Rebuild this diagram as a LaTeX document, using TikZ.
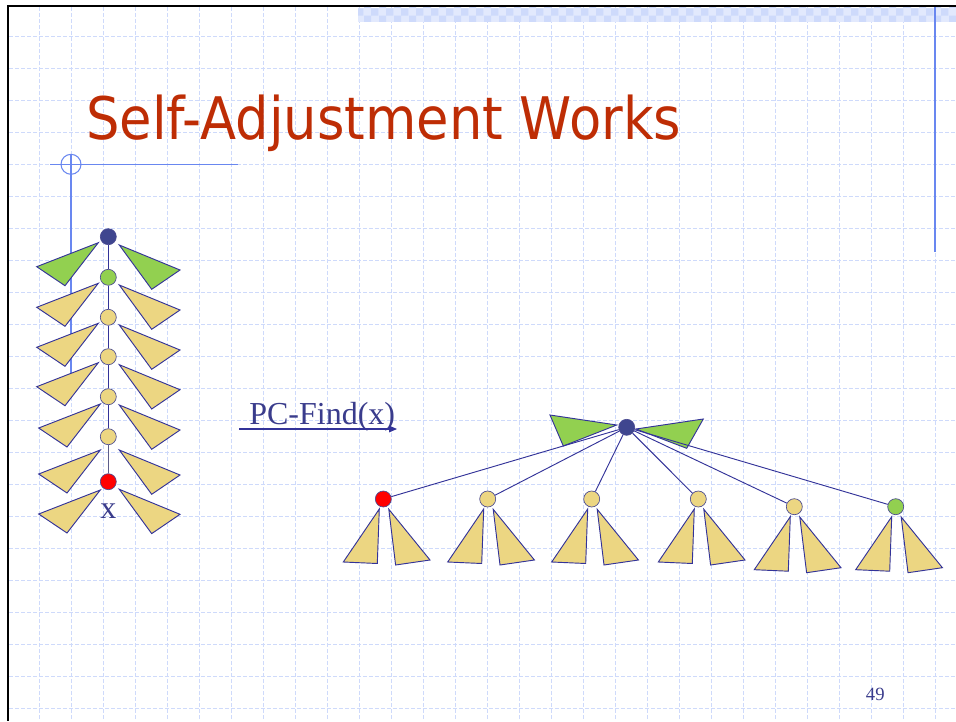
\documentclass[tikz,border=0pt]{standalone}
\usepackage{fontspec}
\usepackage{graphicx}
\setmainfont{Liberation Serif}
\newfontfamily\titlefont{DejaVu Sans}
\usetikzlibrary{arrows.meta,patterns}

\definecolor{titlered}{RGB}{190,45,5}
\definecolor{navy}{RGB}{51,51,153}
\definecolor{textnavy}{RGB}{58,60,140}
\definecolor{rootblue}{RGB}{63,70,143}
\definecolor{subyellow}{RGB}{236,214,130}
\definecolor{leafgreen}{RGB}{146,208,80}
\definecolor{nodered}{RGB}{255,0,0}
\definecolor{gridblue}{RGB}{206,218,251}
\definecolor{decoblue}{RGB}{105,135,240}
\definecolor{bandlight}{RGB}{226,233,253}
\definecolor{banddark}{RGB}{206,218,251}

\begin{document}
\begin{tikzpicture}[x=0.75pt,y=-0.75pt,
  gridline/.style={gridblue, line width=0.6pt, dash pattern=on 3pt off 1.5pt},
  deco/.style={decoblue},
  tri/.style={draw=navy, line width=0.7pt, line join=miter},
  vtx/.style={circle, draw=navy!70!gray, line width=0.5pt, minimum size=12pt, inner sep=0pt},
  edge/.style={navy, line width=0.7pt},
  spine/.style={navy, line width=1pt},
  label/.style={text=textnavy, inner sep=0pt}]
\useasboundingbox (0,0) rectangle (956,721);
\fill[white] (0,0) rectangle (956,721);

% background grid
\foreach \k in {1,...,29}
  \draw[gridline] ({7+32*\k},7) -- ({7+32*\k},721);
\foreach \k in {1,...,22}
  \draw[gridline] (9,{4.7+32*\k}) -- (956,{4.7+32*\k});

% checkered band along the top
\fill[bandlight] (358,7.5) rectangle (956,21.5);
\fill[pattern=checkerboard, pattern color=banddark] (358,7.5) rectangle (956,21.5);

% frame
\draw[black, line width=1.9pt] (7,6) -- (956,6);
\draw[black, line width=1.9pt] (8,5) -- (8,721);

% blue ornaments
\draw[deco, line width=1.5pt] (934.7,7) -- (934.7,252);
\draw[deco, line width=1pt] (50,164.3) -- (238,164.3);
\draw[deco, line width=1.5pt] (71,154.3) -- (71,373);
\draw[deco, line width=0.8pt] (71,164.3) circle[radius=7.5pt];

% title
\node[anchor=base west, inner sep=0pt, text=titlered,
      font=\titlefont\fontsize{44}{52}\selectfont] (title) at (86,139.5)
  {\resizebox{446pt}{\height}{Self-Adjustment Works}};

% ---- left tree: a long path down to x ----
\node[vtx, fill=rootblue]  (L0) at (108.3,236.7) {};
\node[vtx, fill=leafgreen] (L1) at (108.3,277.3) {};
\node[vtx, fill=subyellow] (L2) at (108.3,317.3) {};
\node[vtx, fill=subyellow] (L3) at (108.3,356.7) {};
\node[vtx, fill=subyellow] (L4) at (108.3,396.7) {};
\node[vtx, fill=subyellow] (L5) at (108.3,436.7) {};
\node[vtx, fill=nodered]   (L6) at (108.3,481.7) {};

\draw[spine] (L0) -- (L1);
\draw[spine] (L1) -- (L2);
\draw[spine] (L2) -- (L3);
\draw[spine] (L3) -- (L4);
\draw[spine] (L4) -- (L5);
\draw[navy!45!gray, line width=1pt] (L5) -- (L6);

% subtrees hanging off the path
\foreach \y/\dx/\c in {242.7/0/leafgreen, 283.3/0/subyellow, 323.3/0/subyellow,
                       362.7/0/subyellow, 404/2/subyellow, 450/2/subyellow, 490/2/subyellow}
  \filldraw[tri, fill=\c] ({98.3+\dx},\y) -- ({36.7+\dx},{\y+24}) -- ({65+\dx},{\y+43}) -- cycle;
\foreach \y/\c in {245/leafgreen, 285/subyellow, 325/subyellow,
                   364.7/subyellow, 405/subyellow, 450/subyellow, 489.3/subyellow}
  \filldraw[tri, fill=\c] (119.3,\y) -- (180,{\y+25}) -- (151.7,{\y+44.3}) -- cycle;

\node[label, anchor=base, font=\fontsize{24}{28}\selectfont] (xlab) at (108.3,518.3) {x};

% ---- operation ----
\node[label, anchor=base west, font=\fontsize{24}{28}\selectfont] (op) at (249,424) {PC-Find(x)};
\coordinate (opA) at (239,429);
\coordinate (opB) at (397,429);
\draw[navy, line width=0.8pt, -{Triangle[length=6pt,width=5pt]}] (opA) -- (opB);

% ---- right tree: after path compression ----
\node[vtx, fill=rootblue] (R) at (626.7,427.3) {};
\filldraw[tri, fill=leafgreen] (550,415) -- (616.7,425) -- (563.3,446) -- cycle;
\filldraw[tri, fill=leafgreen] (636,429) -- (703.3,419) -- (686.7,448.3) -- cycle;

\foreach \n/\cx/\cy/\c in {C1/383.3/499/nodered, C2/487.7/499/subyellow,
                           C3/591.7/499/subyellow, C4/698.3/499/subyellow,
                           C5/794.3/506.7/subyellow, C6/895.7/506.7/leafgreen}
{
  \node[vtx, fill=\c] (\n) at (\cx,\cy) {};
  \draw[edge] (R) -- (\n);
  \filldraw[tri, fill=subyellow] ({\cx-4},{\cy+10}) -- ({\cx-40},{\cy+63}) -- ({\cx-6},{\cy+64.5}) -- cycle;
  \filldraw[tri, fill=subyellow] ({\cx+5.5},{\cy+10.3}) -- ({\cx+46.7},{\cy+61}) -- ({\cx+12.3},{\cy+66}) -- cycle;
}

% page number
\node[label, anchor=base, font=\fontsize{14}{16}\selectfont] (page) at (875.3,700.7) {49};
\end{tikzpicture}
\end{document}
